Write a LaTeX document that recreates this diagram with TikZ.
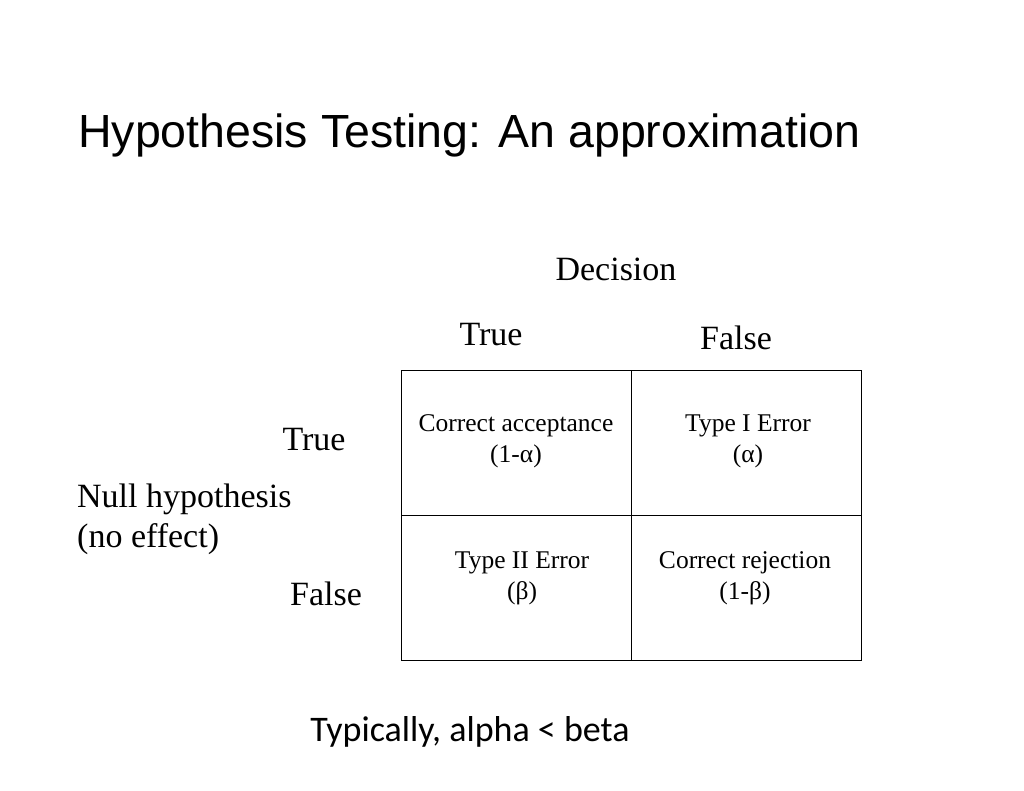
\documentclass[tikz,border=0pt]{standalone}
\usepackage{fontspec}
\setmainfont{Liberation Serif}
\newfontfamily\titlefont{Liberation Sans}
\newfontfamily\notefont{Carlito}
\begin{document}
\begin{tikzpicture}[x=1pt, y=-1pt]
    \tikzset{
        cell/.style={align=center, font=\fontsize{25.5}{31}\selectfont},
        head/.style={font=\fontsize{34}{40}\selectfont}
    }
    \useasboundingbox (0, 0) rectangle (1024, 791);
    \node[anchor=west, inner sep=0pt, font=\titlefont\fontsize{46.5}{54}\selectfont] (title) at (78, 135) {Hypothesis Testing: An approximation};
    \node[head] (decision) at (616, 269) {Decision};
    \node[head] (colT) at (491, 335) {True};
    \node[head] (colF) at (736, 338) {False};
    \node[head] (rowT) at (314, 440) {True};
    \node[head] (rowF) at (326, 594) {False};
    \node[head, anchor=west, inner sep=0pt, align=left] (nullh) at (77, 519) {Null hypothesis\\(no effect)};
    \draw[thin] (401, 370) rectangle (861, 660);
    \draw[thin] (631, 370) -- (631, 660);
    \draw[thin] (401, 515) -- (861, 515);
    \node[cell] (tt) at (516, 441) {Correct acceptance\\(1-α)};
    \node[cell] (tf) at (748, 441) {Type I Error\\(α)};
    \node[cell] (ft) at (522, 578) {Type II Error\\(β)};
    \node[cell] (ff) at (745, 578) {Correct rejection\\(1-β)};
    \node[font=\notefont\fontsize{36}{42}\selectfont] (note) at (470, 732) {Typically, alpha < beta};
\end{tikzpicture}
\end{document}
